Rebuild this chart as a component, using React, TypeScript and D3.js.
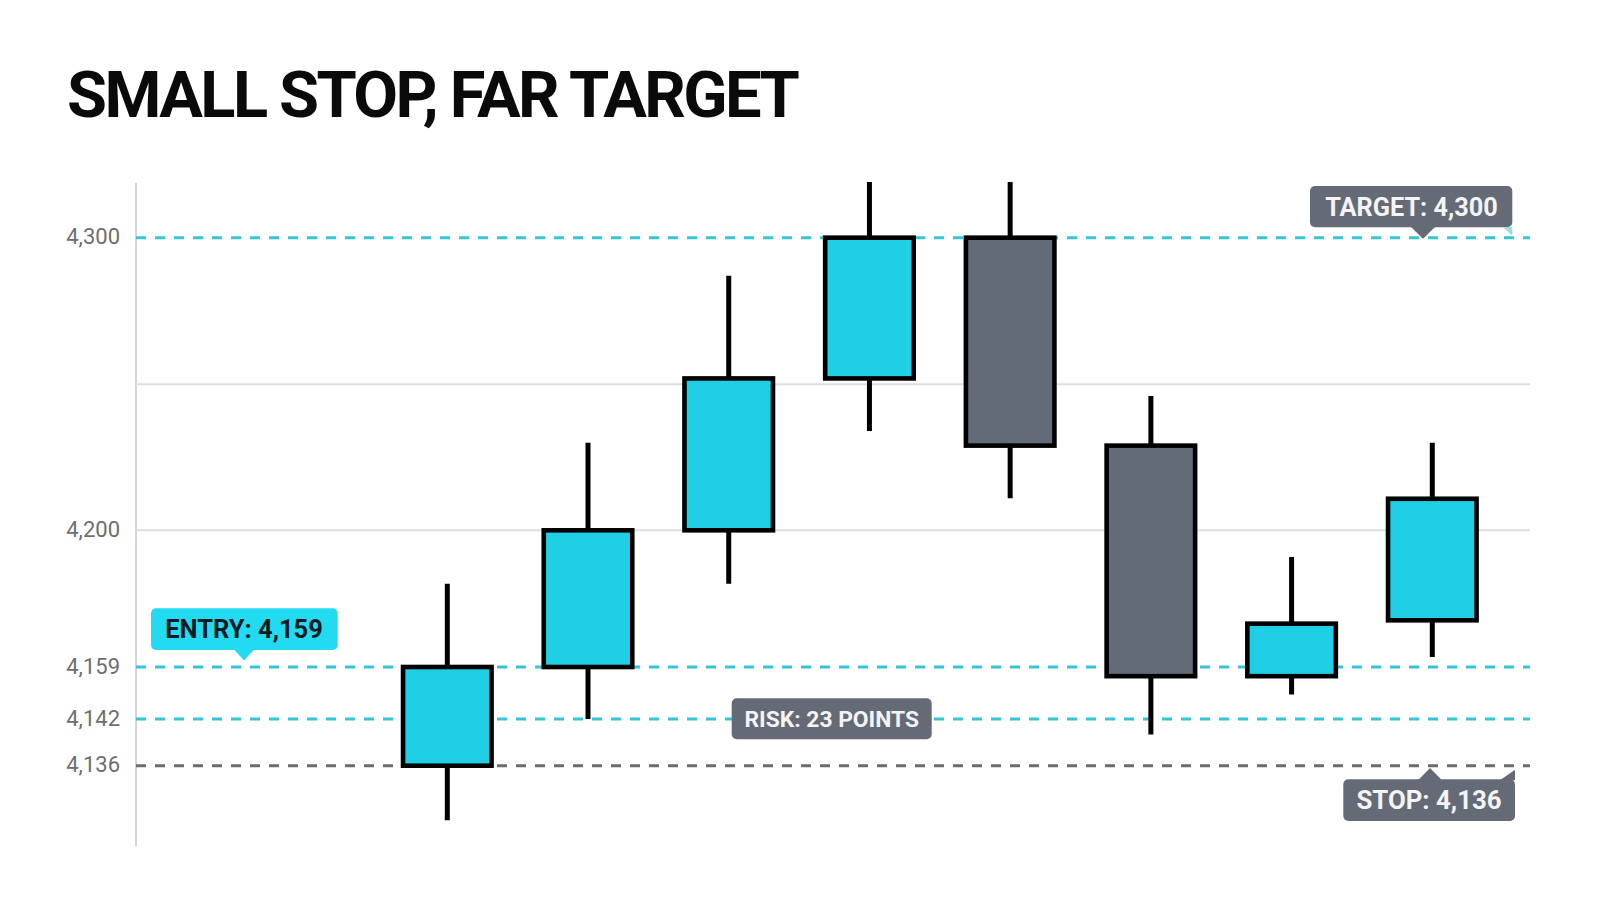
import React from "react";
import * as d3 from "d3";

const title = "SMALL STOP, FAR TARGET";

// candle data
const opens = [4136, 4159, 4200, 4252, 4300, 4229, 4156, 4173];
const highs = [4184, 4230, 4287, 4319, 4319, 4246, 4192, 4230];
const lows = [4129, 4142, 4184, 4234, 4211, 4140, 4150, 4162];
const closes = [4159, 4200, 4252, 4300, 4229, 4156, 4172, 4210.8];

// axis
const tickValues = [4136, 4142, 4159, 4200, 4300];
const gridValues = [4200, 4250];
const scaleStops = [4136, 4142, 4159, 4200, 4250, 4300];

// levels
const targetLevel = 4300;
const entryLevel = 4159;
const riskLevel = 4142;
const stopLevel = 4136;
const targetText = "TARGET: 4,300";
const entryText = "ENTRY: 4,159";
const riskText = "RISK: 23 POINTS";
const stopText = "STOP: 4,136";

const W = 1600;
const H = 914;
const CYAN = "#1fcfe6";
const GRAY = "#636b78";
const LINE_CYAN = "#33c6d6";
const FONT = "Roboto, 'Noto Sans', sans-serif";

export default function App() {
  const y = d3
    .scaleLinear()
    .domain(scaleStops)
    .range([765.7, 719, 667, 530.3, 384.3, 237.7]);
  const idx = opens.map((_, i) => i);
  const x = d3.scalePoint<number>().domain(idx).range([447.3, 1432.3]);
  const plotL = 136;
  const plotR = 1530;
  const bodyW = 88.5;
  const fmt = d3.format(",");

  const candles = idx.map((i) => {
    const o = opens[i], c = closes[i];
    const up = c >= o;
    const cx = x(i) as number;
    const top = y(Math.max(o, c));
    const bot = y(Math.min(o, c));
    return (
      <g key={i}>
        <line x1={cx} x2={cx} y1={y(highs[i])} y2={y(lows[i])} stroke="#000" strokeWidth={5} />
        <rect
          x={cx - bodyW / 2}
          y={top}
          width={bodyW}
          height={bot - top}
          fill={up ? CYAN : GRAY}
          stroke="#000"
          strokeWidth={4.6}
        />
      </g>
    );
  });

  const dashed = (v: number, color: string, key: string) => (
    <line key={key} x1={plotL} x2={plotR} y1={y(v)} y2={y(v)} stroke={color} strokeWidth={3} strokeDasharray="10 9" />
  );

  const yT = y(targetLevel);
  const yE = y(entryLevel);
  const yR = y(riskLevel);
  const yS = y(stopLevel);

  return (
    <svg width={W} height={H} style={{ position: "absolute", left: 0, top: 0, background: "#fff" }}>
      <rect width={W} height={H} fill="#fff" />
      <text x={67} y={117} fontFamily={FONT} fontWeight={700} fontSize={65} letterSpacing={-2.6} fill="#0a0a0a">
        {title}
      </text>

      {/* axis line */}
      <line x1={plotL} x2={plotL} y1={183} y2={846} stroke="#d4d4d4" strokeWidth={2} />
      {gridValues.map((v) => (
        <line key={v} x1={plotL} x2={plotR} y1={y(v)} y2={y(v)} stroke="#dedede" strokeWidth={2} />
      ))}
      {tickValues.map((v) => (
        <text key={v} x={120} y={y(v) - 1} dy="0.35em" textAnchor="end" fontFamily={FONT} fontSize={22} fill="#6e6e6e">
          {fmt(v)}
        </text>
      ))}

      {dashed(targetLevel, LINE_CYAN, "t")}
      {dashed(entryLevel, LINE_CYAN, "e")}
      {dashed(riskLevel, LINE_CYAN, "r")}
      {dashed(stopLevel, "#6a6d72", "s")}

      {candles}

      {/* entry label */}
      <g>
        <rect x={151} y={yE - 58.7} width={186.7} height={41.7} rx={5} fill="#22dbf0" />
        <path d={`M234,${yE - 17.5} L244,${yE - 6.5} L254,${yE - 17.5} Z`} fill="#22dbf0" />
        <text x={244} y={yE - 37.8} dy="0.36em" textAnchor="middle" fontFamily={FONT} fontWeight={700} fontSize={25.5} fill="#0c1a22">
          {entryText}
        </text>
      </g>

      {/* risk label */}
      <g>
        <rect x={731.7} y={yR - 20.7} width={200} height={41} rx={5} fill="#646b77" />
        <text x={831.7} y={yR} dy="0.36em" textAnchor="middle" fontFamily={FONT} fontWeight={700} fontSize={22.8} fill="#f4f4f4">
          {riskText}
        </text>
      </g>

      {/* target label */}
      <g>
        <rect x={1310} y={yT - 51.7} width={202.3} height={41.3} rx={5} fill="#646b77" />
        <path d={`M1411,${yT - 10.8} L1423,${yT + 1} L1435,${yT - 10.8} Z`} fill="#646b77" />
        <path d={`M1503,${yT - 10.8} L1512.3,${yT - 10.8} L1512.3,${yT - 2} Z`} fill="#9fd9e2" />
        <text x={1411.5} y={yT - 31} dy="0.36em" textAnchor="middle" fontFamily={FONT} fontWeight={700} fontSize={25.3} fill="#f4f4f4">
          {targetText}
        </text>
      </g>

      {/* stop label */}
      <g>
        <rect x={1343.3} y={yS + 13.6} width={171.7} height={41.7} rx={5} fill="#646b77" />
        <path d={`M1418,${yS + 14.5} L1430,${yS + 2.3} L1442,${yS + 14.5} Z`} fill="#646b77" />
        <path d={`M1500,${yS + 14.5} L1515,${yS + 4} L1515,${yS + 14.5} Z`} fill="#646b77" />
        <text x={1429} y={yS + 34.5} dy="0.36em" textAnchor="middle" fontFamily={FONT} fontWeight={700} fontSize={25.8} fill="#f4f4f4">
          {stopText}
        </text>
      </g>
    </svg>
  );
}
